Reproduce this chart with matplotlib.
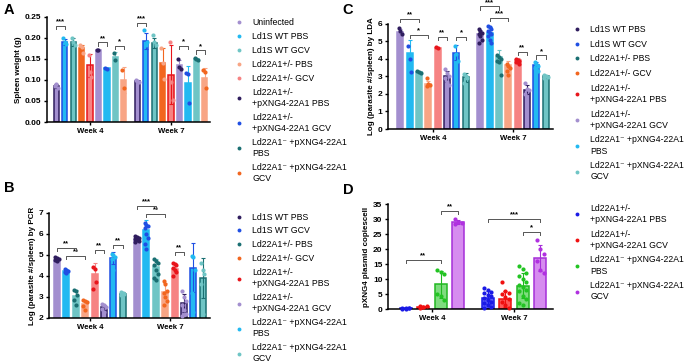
import numpy as np
import matplotlib
matplotlib.use("Agg")
import matplotlib.pyplot as plt
from matplotlib.lines import Line2D

plt.rcParams['font.family'] = ['Liberation Sans', 'DejaVu Sans']

weeks = ['Week 4', 'Week 7']

# colours
LAV = '#a38fcf'; DPUR = '#2f1d5e'; BLUE = '#1f4fe3'; CYAN = '#22b9f1'
LTEAL = '#6fc5c5'; DTEAL = '#1a6f72'; ORANGE = '#f2661f'; SALMON = '#f8a585'
RED = '#e8151b'; PINK = '#f68383'

NEG = 'Ld22A1⁻'

# ---------------- Panel A: spleen weight ----------------
a_labels = ['Uninfected', 'Ld1S WT PBS', 'Ld1S WT GCV', 'Ld22A1+/- PBS', 'Ld22A1+/- GCV',
            'Ld22A1+/-\n+pXNG4-22A1 PBS', 'Ld22A1+/-\n+pXNG4-22A1 GCV',
            NEG + ' +pXNG4-22A1\nPBS', NEG + ' +pXNG4-22A1\nGCV']
a_means_w4 = [0.085, 0.19, 0.19, 0.175, 0.135, 0.172, 0.128, 0.155, 0.10]
a_means_w7 = [0.097, 0.193, 0.188, 0.14, 0.112, 0.135, 0.092, 0.15, 0.105]
a_dots_w4 = [[0.085, 0.09, 0.08], [0.20, 0.19, 0.185], [0.20, 0.19, 0.183],
             [0.182, 0.178, 0.165], [0.16, 0.12, 0.108], [0.172, 0.17],
             [0.128, 0.127], [0.163, 0.147], [0.123, 0.08]]
a_dots_w7 = [[0.10, 0.097, 0.095], [0.218, 0.182, 0.19], [0.207, 0.19, 0.183],
             [0.175, 0.14, 0.103], [0.19, 0.095, 0.053], [0.15, 0.13, 0.125],
             [0.117, 0.115, 0.045], [0.153, 0.15, 0.148], [0.123, 0.118, 0.08]]
a_sig = [(0, 0, 1, 0.229, '***'), (0, 5, 6, 0.189, '**'), (0, 7, 8, 0.181, '*'),
         (1, 0, 1, 0.236, '***'), (1, 5, 6, 0.181, '*'), (1, 7, 8, 0.170, '*')]
a_bar = [(LAV, DPUR), (CYAN, BLUE), (LTEAL, DTEAL), (ORANGE, ORANGE), (PINK, RED),
         (LAV, LAV), (CYAN, CYAN), (LTEAL, LTEAL), (SALMON, SALMON)]
a_dotc = [LAV, CYAN, LTEAL, SALMON, PINK, DPUR, BLUE, DTEAL, ORANGE]

# ---------------- Panel B: PCR ----------------
bc_labels = ['Ld1S WT PBS', 'Ld1S WT GCV', 'Ld22A1+/- PBS', 'Ld22A1+/- GCV',
             'Ld22A1+/-\n+pXNG4-22A1 PBS', 'Ld22A1+/-\n+pXNG4-22A1 GCV',
             NEG + ' +pXNG4-22A1\nPBS', NEG + ' +pXNG4-22A1\nGCV']
b_means_w4 = [4.78, 4.25, 3.04, 2.67, 4.1, 2.5, 4.85, 3.15]
b_means_w7 = [5.75, 6.2, 4.45, 3.25, 4.35, 2.7, 4.4, 3.9]
b_dots_w4 = [[4.9, 4.85, 4.8, 4.75, 4.7], [4.35, 4.3, 4.25, 4.2, 4.15],
             [3.35, 3.3, 3.1, 2.85, 2.6], [2.85, 2.8, 2.75, 2.55, 2.4],
             [4.45, 4.35, 3.7, 3.4], [2.65, 2.6, 2.5, 2.45, 2.3],
             [5.05, 5.0, 4.9, 4.8, 4.3], [3.25, 3.2, 3.15, 3.1]]
b_dots_w7 = [[5.9, 5.85, 5.8, 5.75, 5.7, 5.65, 5.6],
             [6.5, 6.45, 6.4, 6.3, 6.0, 5.8, 5.5, 5.3],
             [4.8, 4.7, 4.6, 4.5, 4.3, 4.1, 3.9, 3.8],
             [3.75, 3.6, 3.3, 3.2, 3.0, 2.8, 2.6],
             [4.6, 4.55, 4.5, 4.4, 4.3, 4.2, 4.0],
             [3.3, 3.0, 2.8, 2.6, 2.4, 2.2, 2.1],
             [4.95, 4.9, 4.3, 3.2, 2.3], [4.6, 4.3, 4.1, 3.6, 2.2]]
b_sig = [(0, 0, 2, 5.35, '**'), (0, 1, 3, 4.95, '**'), (0, 4, 5, 5.24, '**'),
         (0, 6, 7, 5.48, '**'), (1, 0, 2, 7.33, '***'), (1, 1, 3, 6.94, '**'),
         (1, 4, 5, 5.16, '**')]
bc_bar = [(LAV, LAV), (CYAN, CYAN), (LTEAL, LTEAL), (SALMON, SALMON), (PINK, PINK),
          (LAV, DPUR), (CYAN, BLUE), (LTEAL, DTEAL)]
bc_dotc = [DPUR, BLUE, DTEAL, ORANGE, RED, LAV, CYAN, LTEAL]

# ---------------- Panel C: LDA ----------------
c_means_w4 = [5.55, 4.35, 3.25, 2.55, 4.6, 3.0, 4.35, 2.95]
c_means_w7 = [5.4, 5.5, 4.1, 3.65, 3.95, 2.25, 3.65, 3.0]
c_dots_w4 = [[5.75, 5.6, 5.45], [4.75, 4.0, 3.25], [3.3, 3.25, 3.2],
             [2.9, 2.55, 2.5, 2.45], [4.7, 4.6], [3.4, 3.2, 3.0, 2.9, 2.7, 2.5],
             [4.75, 4.3, 3.9], [3.15, 3.05, 2.9, 2.6]]
c_dots_w7 = [[5.7, 5.6, 5.5, 5.4, 5.3, 5.1, 4.9],
             [5.9, 5.8, 5.7, 5.6, 5.5, 5.4, 5.3, 5.1, 4.9],
             [4.2, 4.1, 4.0, 3.9, 3.8, 3.1], [3.7, 3.6, 3.5, 3.3, 3.1],
             [4.0, 3.95, 3.9, 3.85, 3.8, 3.7], [2.6, 2.3, 2.2, 2.0],
             [3.8, 3.7, 3.6, 3.5, 3.4, 3.3], [3.1, 3.0, 2.95, 2.9]]
c_sig = [(0, 0, 2, 6.3, '**'), (0, 1, 3, 5.37, '*'), (0, 4, 5, 5.25, '**'),
         (0, 6, 7, 5.25, '*'), (1, 0, 2, 7.0, '***'), (1, 1, 3, 6.34, '***'),
         (1, 4, 5, 4.4, '**'), (1, 6, 7, 4.2, '*')]

# ---------------- Panel D: plasmid copies ----------------
d_labels = ['Ld22A1+/-\n+pXNG4-22A1 PBS', 'Ld22A1+/-\n+pXNG4-22A1 GCV',
            NEG + ' +pXNG4-22A1\nPBS', NEG + ' +pXNG4-22A1\nGCV']
d_means_w4 = [0.2, 0.7, 8.2, 29.0]
d_means_w7 = [3.8, 3.3, 7.8, 17.0]
d_dots_w4 = [[0.1, 0.15, 0.2, 0.25, 0.3, 0.2], [0.5, 0.7, 0.9, 1.0, 0.6],
             [13.0, 12.2, 11.8, 5.0, 4.5, 3.0], [30.0, 29.0, 28.8, 28.5]]
d_dots_w7 = [[7.0, 6.2, 5.8, 5.5, 4.8, 4.2, 3.8, 3.0, 2.5, 2.0, 1.5, 0.8, 0.3],
             [9.0, 6.0, 5.5, 5.0, 4.0, 3.2, 2.5, 1.5, 0.5],
             [14.5, 13.5, 12.0, 11.0, 10.0, 9.0, 8.0, 7.5, 6.5, 6.0, 4.5, 3.5, 2.0, 1.5],
             [23.0, 20.0, 18.5, 16.0, 13.0, 12.0]]
d_sig = [(0, 0, 2, 16.3, '**'), (0, 2, 3, 32.8, '**'), (1, 0, 3, 30.0, '***'),
         (1, 2, 3, 25.8, '*')]
d_bar = [('#5b5bf5', '#1a1ae6'), ('#ff5a5a', '#f01010'), ('#7fdc7f', '#20b820'),
         ('#d68cef', '#a52fd8')]
d_dotc = ['#1a1ae6', '#f01010', '#22c422', '#b030e0']


def draw_panel(ax, means, dots, bars, dotc, step, width, sigs, ylim, yticks, ylabel, fmt='{:g}'):
    n = len(bars)
    offs = (np.arange(n) - (n - 1) / 2) * step
    for w in range(2):
        for i in range(n):
            x = w + offs[i]
            face, edge = bars[i]
            ax.bar(x, means[w][i], width, color=face, edgecolor=edge, lw=1.1, zorder=2)
            d = np.array(dots[w][i])
            sd = d.std(ddof=1) if len(d) > 1 else 0
            ax.errorbar(x, means[w][i], yerr=sd, color=edge, capsize=1.5, lw=0.8,
                        capthick=0.8, zorder=3)
            jit = ((np.arange(len(d)) % 3) - 1) * width * 0.28
            ax.scatter(x + jit, d, s=9, color=dotc[i], zorder=4, lw=0, clip_on=False)
    tick = (ylim[1] - ylim[0]) * 0.03
    for w, i, j, y, txt in sigs:
        x1, x2 = w + offs[i], w + offs[j]
        ax.plot([x1, x1, x2, x2], [y - tick, y, y, y - tick], color='#555555', lw=0.7,
                clip_on=False, zorder=5)
        ax.text((x1 + x2) / 2, y + tick * 0.2, txt, ha='center', va='bottom',
                fontsize=5.5, fontweight='bold', clip_on=False)
    ax.set_ylim(*ylim)
    ax.set_yticks(yticks)
    ax.set_yticklabels([fmt.format(t) for t in yticks], fontsize=6, fontweight='bold')
    ax.set_xticks([0, 1])
    ax.set_xticklabels(weeks, fontsize=5.6, fontweight='bold')
    ax.set_ylabel(ylabel, fontsize=5.8, fontweight='bold', labelpad=2)
    for s in ['top', 'right']:
        ax.spines[s].set_visible(False)
    for s in ['left', 'bottom']:
        ax.spines[s].set_linewidth(1.1)
    ax.tick_params(axis='both', direction='out', length=2.5, width=1, pad=1.5)


def add_legend(fig, labels, colors, x, y, size, spacing=0.56):
    handles = [Line2D([], [], ls='', marker='o', markersize=2.8, color=c, mec='none')
               for c in colors]
    leg = fig.legend(handles, labels, loc='upper left', bbox_to_anchor=(x, y),
                     frameon=False, fontsize=size, handlelength=0.8, handletextpad=1.1,
                     labelspacing=spacing, borderpad=0, borderaxespad=0)
    for t in leg.get_texts():
        t.set_linespacing(1.3)


fig = plt.figure(figsize=(6.85, 3.64), dpi=100)

axA = fig.add_axes([0.0686, 0.6648, 0.238, 0.289])
draw_panel(axA, [a_means_w4, a_means_w7], [a_dots_w4, a_dots_w7], a_bar, a_dotc,
           0.104, 0.065, a_sig, (0, 0.25), [0, 0.05, 0.10, 0.15, 0.20, 0.25],
           'Spleen weight (g)', fmt='{:.2f}')
axA.set_xlim(-0.531, 1.481)

axB = fig.add_axes([0.0715, 0.1264, 0.235, 0.2885])
draw_panel(axB, [b_means_w4, b_means_w7], [b_dots_w4, b_dots_w7], bc_bar, bc_dotc,
           0.117, 0.075, b_sig, (2, 7), [2, 3, 4, 5, 6, 7],
           'Log (parasite #/spleen) by PCR')
axB.set_xlim(-0.51, 1.5)

axC = fig.add_axes([0.5664, 0.6456, 0.241, 0.2885])
draw_panel(axC, [c_means_w4, c_means_w7], [c_dots_w4, c_dots_w7], bc_bar, bc_dotc,
           0.117, 0.075, c_sig, (0, 6), [0, 1, 2, 3, 4, 5, 6],
           'Log (parasite #/spleen) by LDA')
axC.set_xlim(-0.5625, 1.5)

axD = fig.add_axes([0.5664, 0.151, 0.241, 0.2885])
draw_panel(axD, [d_means_w4, d_means_w7], [d_dots_w4, d_dots_w7], d_bar, d_dotc,
           0.213, 0.15, d_sig, (0, 35), [0, 5, 10, 15, 20, 25, 30, 35],
           'pXNG4 plasmid copiescell')
axD.set_xlim(-0.537, 1.476)

add_legend(fig, a_labels, a_dotc, 0.344, 0.950, 6.3)
add_legend(fig, bc_labels, bc_dotc, 0.344, 0.416, 6.3)
add_legend(fig, bc_labels, bc_dotc, 0.838, 0.931, 6.2, spacing=0.66)
add_legend(fig, d_labels, d_dotc, 0.838, 0.440, 6.2, spacing=0.66)

for letter, x, y in [('A', 0.006, 0.973), ('B', 0.006, 0.483), ('C', 0.500, 0.973),
                     ('D', 0.500, 0.478)]:
    fig.text(x, y, letter, fontsize=10.5, fontweight='bold', va='center', ha='left')

fig.savefig('out.png', dpi=100)
